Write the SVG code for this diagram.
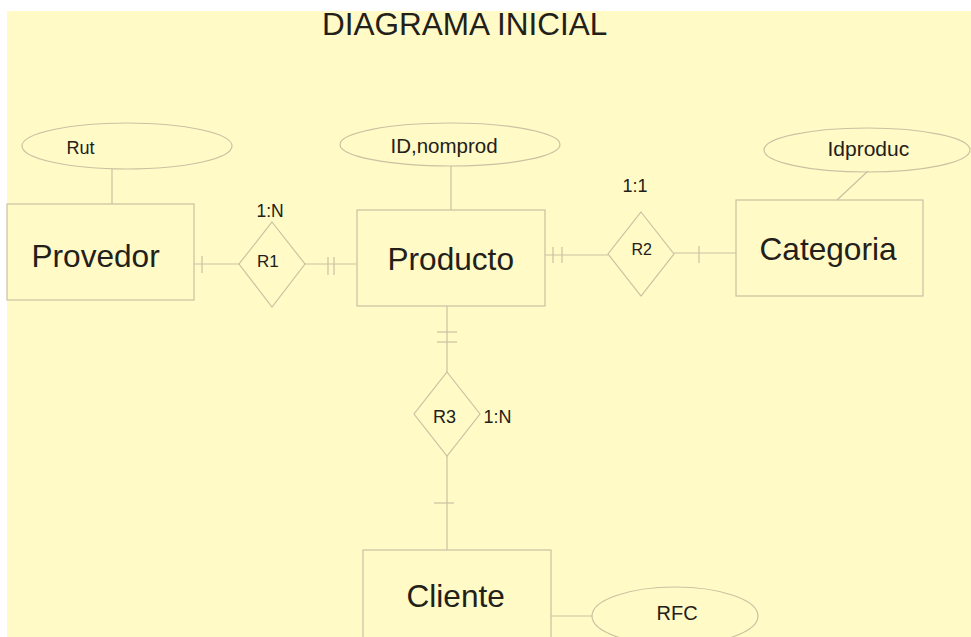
<svg xmlns="http://www.w3.org/2000/svg" width="971" height="637" viewBox="0 0 971 637">
<style>
.s{fill:none;stroke:#C9C2A2;stroke-width:1.2}
.t{font-family:"Liberation Sans",Arial,sans-serif;fill:#222018}
.big{font-size:31.6px}
</style>
<rect x="0" y="0" width="971" height="637" fill="#FFFFFF"/>
<rect x="7" y="11" width="964" height="626" fill="#FFFAC6"/>
<text class="t" x="322" y="34.5" font-size="31.5">DIAGRAMA INICIAL</text>
<g id="connectors">
<line class="s" x1="112" y1="169" x2="112" y2="204"/>
<line class="s" x1="451" y1="166" x2="451" y2="210"/>
<line class="s" x1="868" y1="171" x2="837" y2="200"/>
<line class="s" x1="194" y1="264" x2="239" y2="264"/>
<line class="s" x1="202" y1="256" x2="202" y2="273"/>
<line class="s" x1="305" y1="264" x2="357" y2="264"/>
<line class="s" x1="328" y1="257" x2="328" y2="275"/>
<line class="s" x1="334" y1="257" x2="334" y2="275"/>
<line class="s" x1="545" y1="255" x2="608" y2="255"/>
<line class="s" x1="553" y1="247" x2="553" y2="263"/>
<line class="s" x1="562" y1="247" x2="562" y2="263"/>
<line class="s" x1="674" y1="253" x2="736" y2="253"/>
<line class="s" x1="699" y1="246" x2="699" y2="263"/>
<line class="s" x1="447" y1="306" x2="447" y2="372"/>
<line class="s" x1="437" y1="332" x2="457" y2="332"/>
<line class="s" x1="437" y1="342" x2="457" y2="342"/>
<line class="s" x1="447" y1="456" x2="447" y2="550"/>
<line class="s" x1="434" y1="503" x2="454" y2="503"/>
<line class="s" x1="551" y1="616" x2="592" y2="616"/>
</g>
<g id="cardinalities">
<text class="t" x="256.5" y="217" font-size="17.5">1:N</text>
<text class="t" x="622.5" y="192" font-size="18">1:1</text>
<text class="t" x="483.5" y="423" font-size="18">1:N</text>
</g>
<g id="attr-rut">
<ellipse class="s" cx="127" cy="146" rx="105" ry="23"/>
<text class="t" x="66.5" y="154" font-size="18">Rut</text>
</g>
<g id="attr-idnomprod">
<ellipse class="s" cx="450" cy="144.5" rx="110" ry="21.5"/>
<text class="t" x="390.5" y="153" font-size="20.5">ID,nomprod</text>
</g>
<g id="attr-idproduc">
<ellipse class="s" cx="867" cy="150" rx="103" ry="22"/>
<text class="t" x="827.5" y="156" font-size="21">Idproduc</text>
</g>
<g id="attr-rfc">
<ellipse class="s" cx="675" cy="616" rx="83" ry="29"/>
<text class="t" x="656.5" y="620" font-size="20">RFC</text>
</g>
<g id="provedor">
<rect class="s" x="7" y="204" width="187" height="96"/>
<text class="t big" x="31.5" y="267">Provedor</text>
</g>
<g id="producto">
<rect class="s" x="357" y="210" width="188" height="96"/>
<text class="t big" x="387.5" y="270">Producto</text>
</g>
<g id="categoria">
<rect class="s" x="736" y="200" width="187" height="96"/>
<text class="t big" x="759.5" y="260">Categoria</text>
</g>
<g id="cliente">
<rect class="s" x="363" y="550" width="188" height="100"/>
<text class="t big" x="406.5" y="607">Cliente</text>
</g>
<g id="r1">
<polygon class="s" points="272,222 305,264 272,307 239,264"/>
<text class="t" x="257" y="267" font-size="17">R1</text>
</g>
<g id="r2">
<polygon class="s" points="641,212 674,254 641,296 608,254"/>
<text class="t" x="631.5" y="255" font-size="16">R2</text>
</g>
<g id="r3">
<polygon class="s" points="447,372 480,414 447,456 414,414"/>
<text class="t" x="433" y="423" font-size="18">R3</text>
</g>
</svg>
